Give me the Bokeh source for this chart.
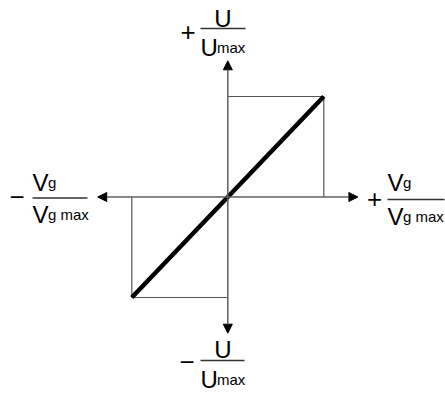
from bokeh.plotting import figure
from bokeh.models import Range1d, Label, Arrow, NormalHead
from bokeh.embed import file_html
from bokeh.resources import INLINE

# ---- data (normalized units) ----
vg_norm = [-1.0, 0.0, 1.0]          # Vg / Vg max
u_norm = [-1.0, 0.0, 1.0]           # U / U max
axis_extent = 1.355                 # reach of the axis arrows
num_x = "V"; sub_x = "g"; den_sub_x = "g max"
num_y = "U"; den_sub_y = "max"

W, H = 445, 394
CX, CY = 227.3, 196.5   # picture px of origin
SX, SY = 96.0, 100.5    # px per unit

def X(xp):
    return (xp - CX) / SX

def Y(yp):
    return (CY - yp) / SY

p = figure(width=W, height=H, output_backend="svg", toolbar_location=None,
           x_range=Range1d(X(0), X(W)), y_range=Range1d(Y(H), Y(0)),
           min_border=0)
p.axis.visible = False
p.grid.visible = False
p.outline_line_color = None
p.background_fill_color = "white"
p.border_fill_color = "white"

FONT = "Liberation Sans"
AX = "#5f5f5f"

p.line([0, vg_norm[2], vg_norm[2]], [u_norm[2], u_norm[2], 0], line_color="#555555", line_width=1.2)
p.line([0, vg_norm[0], vg_norm[0]], [u_norm[0], u_norm[0], 0], line_color="#555555", line_width=1.2)

head = lambda: NormalHead(size=9, fill_color="black", line_color="black", line_width=1)
p.add_layout(Arrow(start=head(), end=head(), x_start=-axis_extent, y_start=0,
                   x_end=axis_extent, y_end=0, line_color=AX, line_width=1.5))
p.add_layout(Arrow(start=head(), end=head(), x_start=0, y_start=-axis_extent,
                   x_end=0, y_end=axis_extent, line_color=AX, line_width=1.5))

p.line(vg_norm, u_norm, line_color="black", line_width=4.5, line_cap="butt")

BL = -6.0  # baseline correction

def lab(xp, yp, t, size, align="left", base="alphabetic"):
    yy = yp + (BL if base == "alphabetic" else 0)
    p.add_layout(Label(x=X(xp), y=Y(yy), text=t, text_font=FONT,
                       text_font_size=f"{size}px", text_align=align,
                       text_baseline=base, text_color="black"))

def bar(x0, x1, yp):
    p.segment(x0=[X(x0)], y0=[Y(yp)], x1=[X(x1)], y1=[Y(yp)], line_color="#333333", line_width=1.5)

BIG, SMALL, SIGN = 24, 15, 26

lab(187.5, 31, "+", SIGN, "center", "middle")
lab(222.5, 24, num_y, BIG, "center")
bar(200, 245, 28)
lab(200, 53, num_y, BIG)
lab(216.5, 53, den_sub_y, SMALL)

DB = -3  # bottom label lift
lab(186.5, 364 + DB, "\u2212", SIGN, "center", "middle")
lab(222.5, 358 + DB, num_y, BIG, "center")
bar(200, 244, 363 + DB)
lab(200, 388 + DB, num_y, BIG)
lab(216.5, 388 + DB, den_sub_y, SMALL)

lab(16.5, 196.5, "\u2212", SIGN, "center", "middle")
lab(32, 188, num_x, BIG)
lab(47.5, 188, sub_x, SMALL)
bar(32, 87, 197.5)
lab(32, 220, num_x, BIG)
lab(47.5, 220, den_sub_x, SMALL)

lab(374, 198, "+", SIGN, "center", "middle")
lab(387, 188, num_x, BIG)
lab(402.5, 188, sub_x, SMALL)
bar(387, 444, 199)
lab(387, 222, num_x, BIG)
lab(402.5, 222, den_sub_x, SMALL)

open("out.html", "w").write(file_html(p, INLINE))
